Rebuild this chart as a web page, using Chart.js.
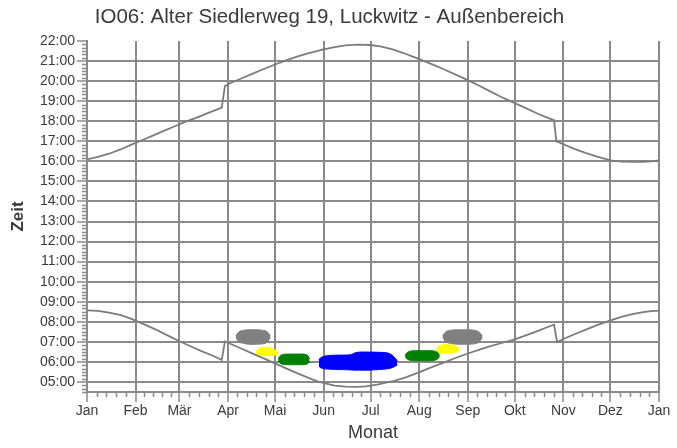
<!DOCTYPE html>
<html>
<head>
<meta charset="utf-8">
<script src="https://cdn.jsdelivr.net/npm/chart.js@4.4.0/dist/chart.umd.min.js"></script>
<style>
  html, body { margin: 0; padding: 0; background: #fff; }
  canvas { display: block; }
</style>
</head>
<body>
<canvas id="chart" width="677" height="448"></canvas>
<script>
// Month boundaries (day of year) and their labels
const monthStarts = [0, 31, 59, 90, 120, 151, 181, 212, 243, 273, 304, 334, 365];
const monthLabels = ['Jan', 'Feb', 'Mär', 'Apr', 'Mai', 'Jun', 'Jul', 'Aug', 'Sep', 'Okt', 'Nov', 'Dez', 'Jan'];
const hourTicks = [5, 6, 7, 8, 9, 10, 11, 12, 13, 14, 15, 16, 17, 18, 19, 20, 21, 22];

// Sunset (hours, local clock time incl. DST)
const sunsetDays  = [0, 7, 14, 21, 28, 35, 42, 49, 56, 63, 70, 77, 82, 86, 88, 91, 98, 105, 112, 120, 127, 134, 141, 151, 158, 165, 172, 181, 188, 195, 202, 212, 220, 228, 236, 243, 250, 257, 264, 273, 280, 287, 294, 298, 299.5, 304, 311, 318, 325, 334, 341, 348, 355, 360, 365];
const sunsetHours = [16.10, 16.22, 16.38, 16.58, 16.82, 17.05, 17.28, 17.52, 17.75, 17.98, 18.18, 18.40, 18.55, 18.68, 19.75, 19.88, 20.12, 20.35, 20.58, 20.83, 21.03, 21.22, 21.38, 21.58, 21.70, 21.78, 21.82, 21.80, 21.72, 21.58, 21.40, 21.10, 20.85, 20.58, 20.30, 20.05, 19.78, 19.50, 19.22, 18.90, 18.65, 18.40, 18.17, 18.05, 17.00, 16.85, 16.62, 16.42, 16.25, 16.05, 15.99, 15.97, 15.98, 16.00, 16.05];

// Sunrise (hours, local clock time incl. DST)
const sunriseDays  = [0, 7, 14, 21, 28, 31, 38, 45, 52, 59, 66, 73, 80, 86, 88, 91, 98, 105, 112, 120, 127, 134, 141, 147, 152, 158, 165, 172, 178, 181, 186, 190, 196, 203, 213, 220, 228, 236, 243, 250, 257, 264, 273, 280, 287, 294, 298, 300, 304, 311, 318, 325, 334, 341, 348, 355, 360, 365];
const sunriseHours = [8.57, 8.54, 8.46, 8.34, 8.16, 8.06, 7.82, 7.57, 7.30, 7.03, 6.78, 6.54, 6.32, 6.10, 7.02, 6.92, 6.68, 6.44, 6.20, 5.93, 5.68, 5.44, 5.22, 5.03, 4.93, 4.82, 4.77, 4.76, 4.78, 4.82, 4.88, 4.95, 5.05, 5.22, 5.52, 5.74, 5.98, 6.22, 6.42, 6.60, 6.77, 6.93, 7.12, 7.32, 7.52, 7.74, 7.86, 6.99, 7.14, 7.38, 7.60, 7.82, 8.07, 8.24, 8.38, 8.48, 8.53, 8.56];

// Shadow periods: day of year, start and end of shadow (hours)
const grayEarlyDays = [95, 97, 100, 104, 108, 112, 115, 117];
const grayEarlyFrom = [7.22, 7.00, 6.92, 6.88, 6.88, 6.90, 6.98, 7.22];
const grayEarlyTo   = [7.30, 7.50, 7.58, 7.60, 7.60, 7.58, 7.50, 7.30];

const yellowEarlyDays = [108, 110, 113, 117, 120, 122];
const yellowEarlyFrom = [6.42, 6.34, 6.32, 6.32, 6.34, 6.40];
const yellowEarlyTo   = [6.55, 6.68, 6.72, 6.70, 6.60, 6.50];

const greenEarlyDays = [122, 123.5, 126, 130, 135, 139, 141, 142];
const greenEarlyFrom = [6.05, 5.92, 5.87, 5.86, 5.86, 5.87, 5.92, 6.05];
const greenEarlyTo   = [6.15, 6.32, 6.38, 6.39, 6.39, 6.38, 6.30, 6.15];

const blueDays = [148, 150, 155, 162, 168, 171, 174, 180, 186, 192, 195, 198];
const blueFrom = [5.78, 5.68, 5.64, 5.62, 5.60, 5.59, 5.59, 5.59, 5.62, 5.66, 5.72, 5.85];
const blueTo   = [6.12, 6.25, 6.32, 6.34, 6.36, 6.45, 6.49, 6.49, 6.48, 6.44, 6.32, 6.06];

const greenLateDays = [203, 204.5, 207, 212, 217, 221, 223.5, 225];
const greenLateFrom = [6.28, 6.13, 6.07, 6.06, 6.06, 6.07, 6.13, 6.28];
const greenLateTo   = [6.33, 6.48, 6.55, 6.56, 6.56, 6.55, 6.48, 6.33];

const yellowLateDays = [223, 224.5, 227, 231, 235, 237.5];
const yellowLateFrom = [6.50, 6.45, 6.44, 6.44, 6.46, 6.58];
const yellowLateTo   = [6.55, 6.78, 6.85, 6.85, 6.80, 6.65];

const grayLateDays = [227, 229, 232, 237, 242, 247, 250, 252.3];
const grayLateFrom = [7.22, 7.00, 6.92, 6.88, 6.88, 6.90, 6.98, 7.22];
const grayLateTo   = [7.30, 7.50, 7.58, 7.60, 7.60, 7.58, 7.50, 7.30];

const GRID = '#8a8a8a';
const CURVE = '#7c7c7c';
const TEXT = '#3a3a3a';

const toPoints = (xs, ys) => xs.map((x, i) => ({ x, y: ys[i] }));

function curve(days, hours) {
  return {
    type: 'line',
    data: toPoints(days, hours),
    borderColor: CURVE,
    borderWidth: 1.8,
    pointRadius: 0,
    tension: 0,
    fill: false
  };
}

// A shadow period is drawn as the area between its end and start lines
function shadowBand(days, from, to, color) {
  const common = {
    type: 'line',
    borderColor: color,
    backgroundColor: color,
    borderWidth: 1,
    pointRadius: 0,
    tension: 0.4
  };
  return [
    Object.assign({}, common, { data: toPoints(days, to), fill: false }),
    Object.assign({}, common, { data: toPoints(days, from), fill: '-1' })
  ];
}

const datasets = [
  curve(sunsetDays, sunsetHours),
  curve(sunriseDays, sunriseHours),
  ...shadowBand(grayEarlyDays, grayEarlyFrom, grayEarlyTo, '#808080'),
  ...shadowBand(yellowEarlyDays, yellowEarlyFrom, yellowEarlyTo, '#ffff00'),
  ...shadowBand(greenEarlyDays, greenEarlyFrom, greenEarlyTo, '#008000'),
  ...shadowBand(blueDays, blueFrom, blueTo, '#0000ff'),
  ...shadowBand(greenLateDays, greenLateFrom, greenLateTo, '#008000'),
  ...shadowBand(yellowLateDays, yellowLateFrom, yellowLateTo, '#ffff00'),
  ...shadowBand(grayLateDays, grayLateFrom, grayLateTo, '#808080')
];

// Short minor tick marks: five parts per month, 10-minute steps on the time axis
const minorTicks = {
  id: 'minorTicks',
  afterDraw(chart) {
    const { ctx, scales: { x, y } } = chart;
    ctx.save();
    ctx.strokeStyle = GRID;
    ctx.lineWidth = 1.5;
    ctx.beginPath();
    for (let m = 0; m < monthStarts.length - 1; m++) {
      const a = monthStarts[m], b = monthStarts[m + 1];
      for (let k = 1; k < 5; k++) {
        const px = Math.round(x.getPixelForValue(a + (b - a) * k / 5)) + 0.5;
        ctx.moveTo(px, y.bottom);
        ctx.lineTo(px, y.bottom + 5);
      }
    }
    for (let i = 0; i <= 105; i++) {
      const v = y.min + i / 6;
      if (v > y.max + 1e-6) break;
      if (Math.abs(v - Math.round(v)) < 1e-6) continue;
      const py = Math.round(y.getPixelForValue(v)) + 0.5;
      ctx.moveTo(x.left - 5, py);
      ctx.lineTo(x.left, py);
    }
    ctx.stroke();
    ctx.restore();
  }
};

Chart.defaults.font.family = '"Liberation Sans", Arial, sans-serif';
Chart.defaults.color = TEXT;

new Chart(document.getElementById('chart'), {
  type: 'line',
  data: { datasets },
  plugins: [minorTicks],
  options: {
    responsive: false,
    animation: false,
    events: [],
    layout: { padding: { left: 0, right: 18, top: 0, bottom: 0 } },
    plugins: {
      legend: { display: false },
      tooltip: { enabled: false },
      title: {
        display: true,
        text: 'IO06: Alter Siedlerweg 19, Luckwitz - Außenbereich',
        color: TEXT,
        font: { size: 20.5, weight: 'normal' },
        padding: { top: 4.7, bottom: 11.7 }
      }
    },
    scales: {
      x: {
        type: 'linear',
        min: 0,
        max: 365,
        z: 1,
        afterFit: s => { s.height = 56; },
        afterBuildTicks: s => { s.ticks = monthStarts.map(v => ({ value: v })); },
        ticks: {
          autoSkip: false,
          maxRotation: 0,
          padding: 1,
          color: TEXT,
          font: { size: 14 },
          callback: (v, i) => monthLabels[i]
        },
        grid: {
          color: GRID,
          lineWidth: 2,
          tickLength: 10,
          tickColor: GRID,
          tickWidth: 1.5
        },
        border: { display: true, color: GRID, width: 2 },
        title: {
          display: true,
          text: 'Monat',
          color: TEXT,
          font: { size: 18 },
          padding: { top: 0, bottom: 4 }
        }
      },
      y: {
        type: 'linear',
        min: 4.5,
        max: 22,
        z: 1,
        afterFit: s => { s.width = 87; },
        afterBuildTicks: s => { s.ticks = hourTicks.map(v => ({ value: v })); },
        ticks: {
          autoSkip: false,
          padding: 2,
          color: TEXT,
          font: { size: 14 },
          callback: v => String(v).padStart(2, '0') + ':00'
        },
        grid: {
          color: ctx => (ctx.tick && ctx.tick.value === 22 ? 'rgba(0,0,0,0)' : GRID),
          lineWidth: 2,
          tickLength: 10,
          tickColor: GRID,
          tickWidth: 1.5
        },
        border: { display: true, color: GRID, width: 2 },
        title: {
          display: true,
          text: 'Zeit',
          color: TEXT,
          font: { size: 17, weight: 'bold' },
          padding: { top: 8, bottom: 0 }
        }
      }
    }
  }
});
</script>
</body>
</html>
